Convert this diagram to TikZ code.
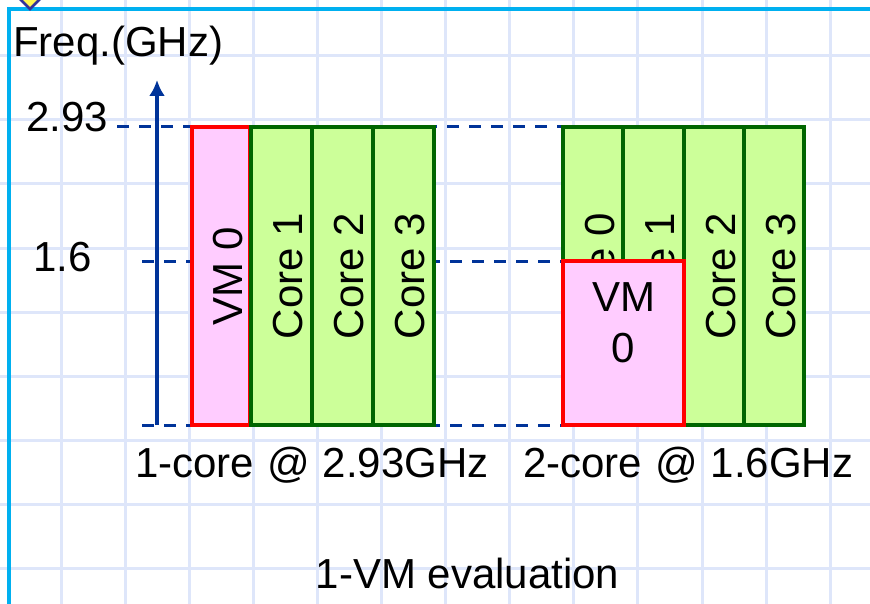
\documentclass[tikz,border=0pt]{standalone}
\usepackage{fontspec}
\setmainfont{Liberation Sans}
\usetikzlibrary{arrows.meta,positioning,calc}
\definecolor{GridColor}{RGB}{222,230,250}
\definecolor{FrameColor}{RGB}{0,176,240}
\definecolor{AxisColor}{RGB}{0,51,153}
\definecolor{CoreFill}{RGB}{204,255,153}
\definecolor{CoreLine}{RGB}{0,102,0}
\definecolor{VMFill}{RGB}{255,204,255}
\definecolor{VMLine}{RGB}{255,0,0}
\definecolor{MarkFill}{RGB}{255,245,80}
\definecolor{MarkLine}{RGB}{51,51,153}
\tikzset{
  gridline/.style={GridColor, line width=3pt},
  frameline/.style={FrameColor, line width=3.5pt},
  axisline/.style={AxisColor, line width=3.5pt},
  levelline/.style={AxisColor, line width=3pt, dash pattern=on 12pt off 10pt},
  corebox/.style={draw=CoreLine, fill=CoreFill, line width=4pt, rotate=90, minimum width=298, minimum height=61, text height=43pt},
  vmbox/.style={draw=VMLine, fill=VMFill, line width=4pt},
}

\begin{document}
\begin{tikzpicture}[x=1pt, y=-1pt, >=Latex, every node/.style={font=\fontsize{42}{51}\selectfont, inner sep=0pt}]
  \useasboundingbox (0,0) rectangle (870,604);
  % grid paper
  \foreach \gx in {0,...,12} \draw[gridline] (61+64.1*\gx,0) -- (61+64.1*\gx,604);
  \foreach \gy in {0,...,8} \draw[gridline] (0,56+64*\gy) -- (870,56+64*\gy);
  % slide frame and corner mark
  \draw[frameline] (9,604) -- (9,9) -- (870,9);
  \draw[fill=MarkFill, draw=MarkLine, line width=2.5pt] (12,-9) -- (30,9) -- (48,-9) -- cycle;

  % axis and levels
  \node[anchor=base west] (freq) at (13,57) {Freq.(GHz)};
  \node[anchor=base east] (val293) at (108,132) {2.93};
  \node[anchor=base west] (val16) at (33,271) {1.6};
  \coordinate (ybot) at (157,425);
  \coordinate (ytop) at (157,80);
  \coordinate (top0) at (117,127);
  \coordinate (top1) at (575,127);
  \coordinate (mid0) at (142,261);
  \coordinate (mid1) at (565,261);
  \coordinate (bot0) at (142,425);
  \coordinate (bot1) at (565,425);
  \draw[levelline] (top0) -- (top1);
  \draw[levelline] (mid0) -- (mid1);
  \draw[levelline] (bot0) -- (bot1);
  \draw[axisline, -{Latex[length=16pt, width=16pt]}] (ybot) -- (ytop);

  % 1-core @ 2.93GHz
  \node[corebox, draw=VMLine, fill=VMFill, minimum height=58] (vmA) at (221,276) {VM 0};
  \node[corebox] (coreA1) at (281,276) {Core 1};
  \node[corebox] (coreA2) at (342.5,276) {Core 2};
  \node[corebox] (coreA3) at (403,276) {Core 3};

  % 2-core @ 1.6GHz
  \node[corebox, minimum height=60.5] (coreB0) at (593,276) {Core 0};
  \node[corebox, minimum height=60.5] (coreB1) at (653.5,276) {Core 1};
  \node[corebox, minimum height=60.5] (coreB2) at (714,276) {Core 2};
  \node[corebox, minimum height=60.5] (coreB3) at (774,276) {Core 3};
  \node[vmbox, minimum width=121, minimum height=164] (vmB) at (623.5,343) {};
  \node[align=center] (vmBtext) at (623.5,322.5) {VM\\0};

  % captions
  \node[anchor=base west] (capA) at (135,477) {1-core\hspace{13pt}@\hspace{13pt}2.93GHz};
  \node[anchor=base west] (capB) at (523,477) {2-core\hspace{13pt}@\hspace{13pt}1.6GHz};
  \node[anchor=base] (title) at (467.5,588) {1-VM evaluation};
\end{tikzpicture}
\end{document}
